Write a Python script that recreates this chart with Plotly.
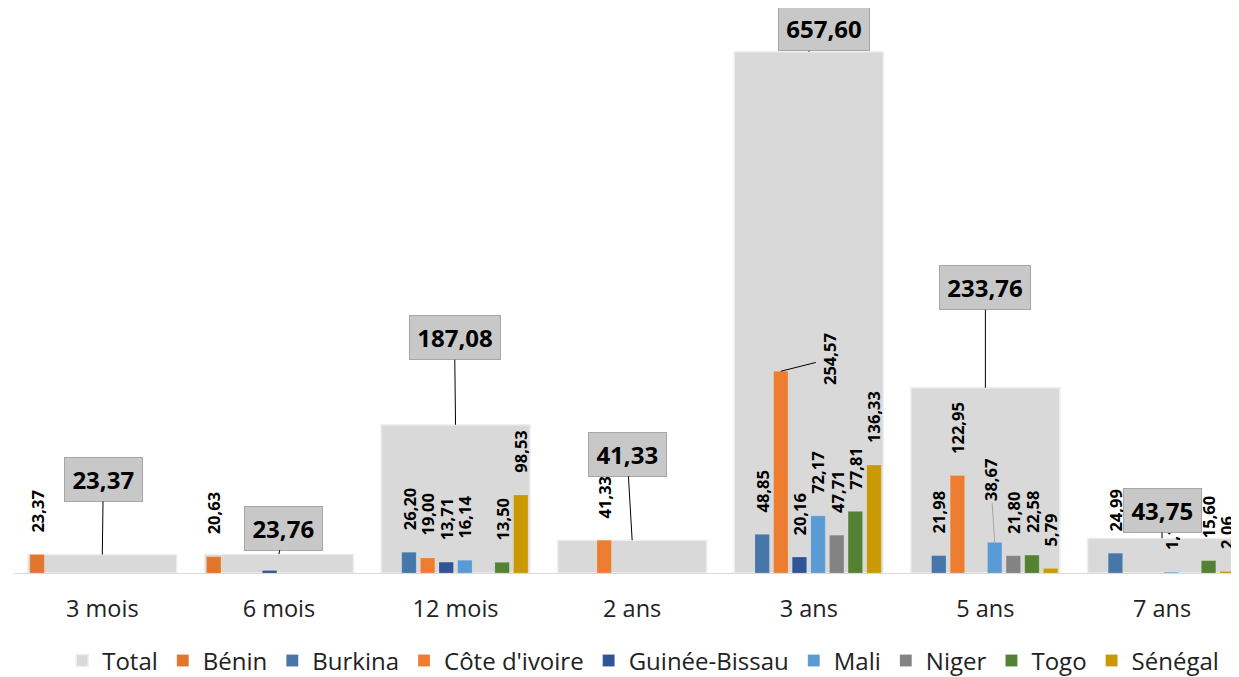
import plotly.graph_objects as go

categories = ["3 mois", "6 mois", "12 mois", "2 ans", "3 ans", "5 ans", "7 ans"]
totals = [23.37, 23.76, 187.08, 41.33, 657.60, 233.76, 43.75]

countries = ["Bénin", "Burkina", "Côte d'ivoire", "Guinée-Bissau", "Mali", "Niger", "Togo", "Sénégal"]
benin = [23.37, 20.63, None, None, None, None, None]
burkina = [None, None, 26.20, None, 48.85, 21.98, 24.99]
cote_ivoire = [None, None, 19.00, 41.33, 254.57, 122.95, None]
guinee_bissau = [None, 3.13, 13.71, None, 20.16, None, None]
mali = [None, None, 16.14, None, 72.17, 38.67, 1.10]
niger = [None, None, None, None, 47.71, 21.80, None]
togo = [None, None, 13.50, None, 77.81, 22.58, 15.60]
senegal = [None, None, 98.53, None, 136.33, 5.79, 2.06]
series = [benin, burkina, cote_ivoire, guinee_bissau, mali, niger, togo, senegal]

colors = ["#E2762F", "#4677A8", "#ED7D31", "#2F5597", "#5B9BD5", "#838383", "#548235", "#C99A04"]

# callout offsets (pixels) for Total boxes
total_offsets = [(1, -75), (5, -26), (-1, -87), (-5, -86), (15, -23), (0, -100), (0, -28)]
# special country-label callouts: (country index, category index) -> (ax, ay, line colour)
label_callouts = {(2, 4): (48, -12, "#000000"), (4, 5): (-4, -62, "#A6A6A6")}

def fmt(v):
    return f"{v:.2f}".replace(".", ",")

xs = list(range(len(categories)))
group_w = 0.844
slot = group_w / len(countries)
bar_w = 0.082

LABEL_FONT = dict(family="Open Sans", size=16.5, color="#000000", weight="bold")

fig = go.Figure()
fig.add_trace(go.Bar(
    x=xs, y=totals, name="Total", width=group_w, offset=-group_w / 2,
    marker=dict(color="#D9D9D9", line=dict(color="#EFEFEF", width=1.5)),
    hoverinfo="skip",
))
annotations = []
for ci, (name, vals, col) in enumerate(zip(countries, series, colors)):
    off = -group_w / 2 + ci * slot + (slot - bar_w) / 2
    fig.add_trace(go.Bar(
        x=xs, y=vals, name=name, width=bar_w, offset=off,
        marker=dict(color=col, line=dict(color="rgba(255,255,255,0.35)", width=0.5)),
    ))
    for xi, v in zip(xs, vals):
        if v is None:
            continue
        xc = xi + off + bar_w / 2
        if (ci, xi) in label_callouts:
            ax, ay, lc = label_callouts[(ci, xi)]
            annotations.append(dict(
                x=xc, y=v, xref="x", yref="y", text=fmt(v), textangle=-90,
                showarrow=True, arrowhead=0, arrowwidth=1, arrowcolor=lc,
                ax=ax, ay=ay, font=LABEL_FONT,
            ))
        else:
            annotations.append(dict(
                x=xc, y=v, xref="x", yref="y", text=fmt(v), textangle=-90,
                showarrow=False, yanchor="bottom", xanchor="center", yshift=20,
                font=LABEL_FONT,
            ))

for xi, (t, (ax, ay)) in enumerate(zip(totals, total_offsets)):
    txt = fmt(t)
    annotations.append(dict(
        x=xi, y=t, xref="x", yref="y", text=txt,
        showarrow=True, arrowhead=0, arrowwidth=1, arrowcolor="#000000",
        ax=ax, ay=ay, bgcolor="#C8C8C8", bordercolor="#A6A6A6", borderwidth=1, borderpad=5,
        width=13.7 * len(txt) - 2,
        font=dict(family="Open Sans", size=24, color="#000000", weight="bold"),
    ))

# page body adds an 8px margin; the figure is sized so that it fills the 1239x677 window
fig.update_layout(
    width=1231, height=669,
    margin=dict(l=6, r=0, t=26, b=104),
    barmode="overlay",
    plot_bgcolor="white", paper_bgcolor="white",
    font=dict(family="Open Sans", color="#222222"),
    annotations=annotations,
    showlegend=True,
    legend=dict(
        orientation="h", xref="container", yref="container",
        x=0.516, y=0.024, xanchor="center", yanchor="middle",
        font=dict(family="Open Sans", size=24, color="#222222"),
        traceorder="normal", itemclick=False,
    ),
    xaxis=dict(
        range=[-0.5, 6.436], tickvals=xs, ticktext=categories,
        showgrid=False, zeroline=False, showline=True, linecolor="#D9D9D9", linewidth=1,
        ticks="outside", ticklen=15, tickcolor="rgba(0,0,0,0)",
        tickfont=dict(family="Open Sans", size=23.5, color="#222222"),
    ),
    yaxis=dict(range=[0, 680], visible=False, showgrid=False, zeroline=False),
)

fig.write_html("out.html")
